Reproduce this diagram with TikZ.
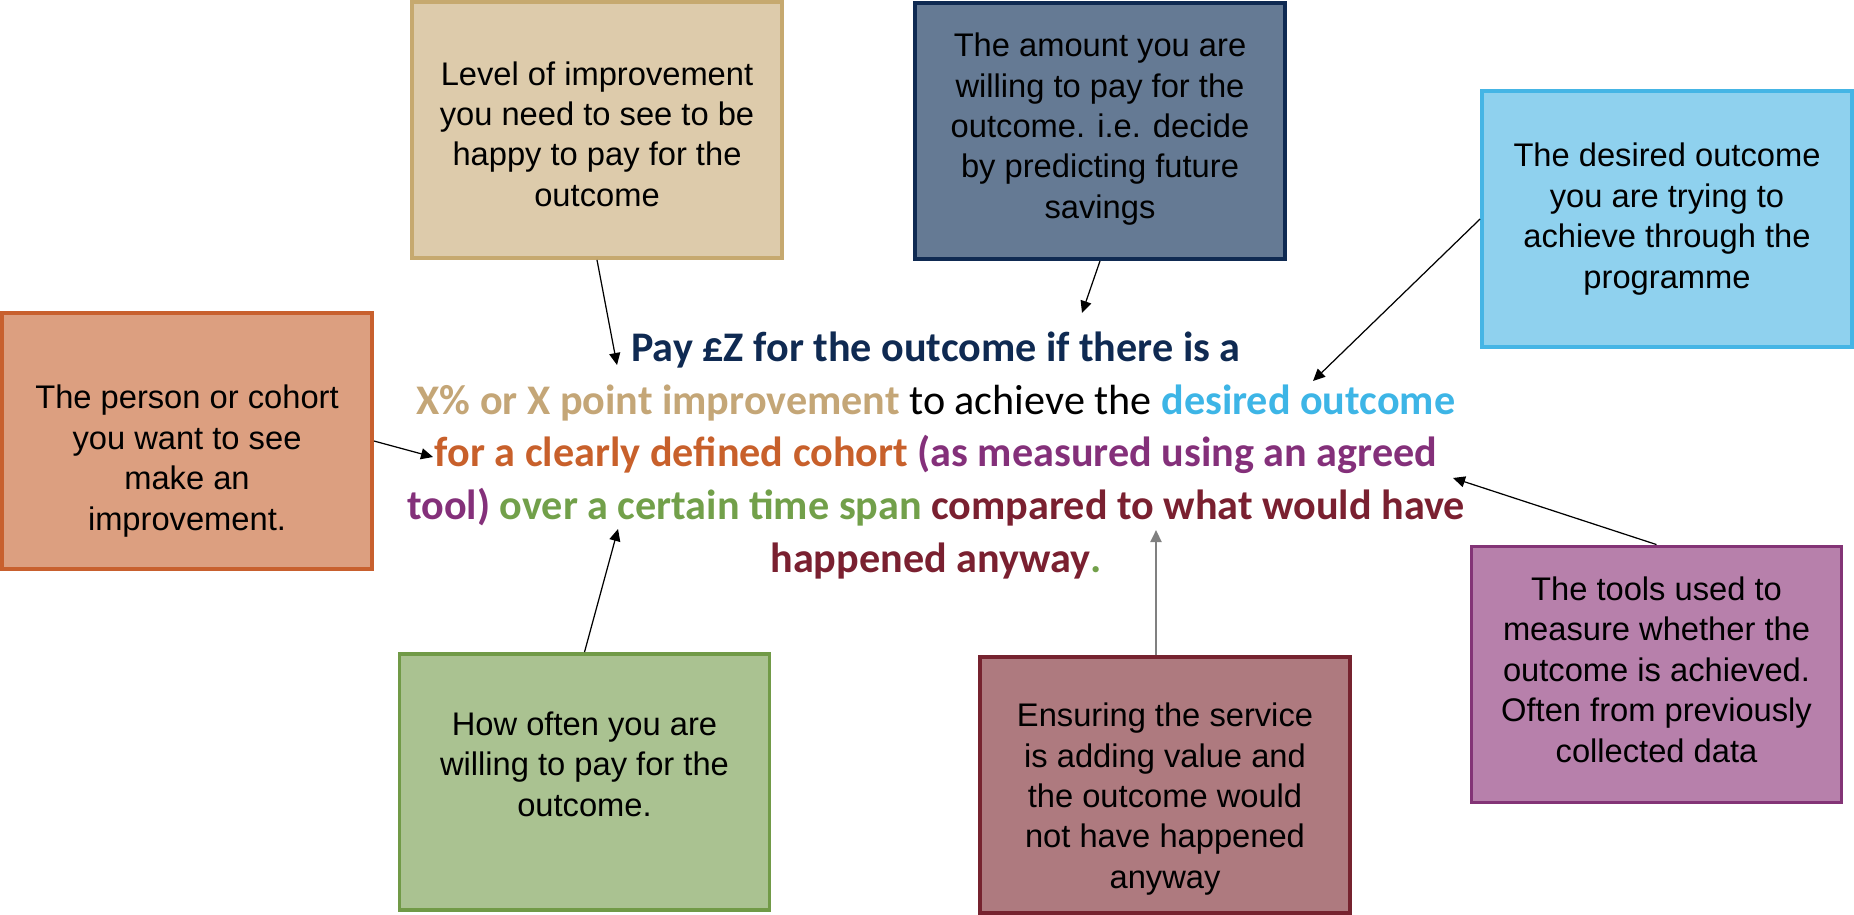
\documentclass[tikz,border=0pt]{standalone}
\usepackage{fontspec}
\setmainfont{Liberation Sans}
\newfontfamily\claimfont{Carlito}
\usetikzlibrary{arrows.meta}
\definecolor{tanfill}{HTML}{DDCBAB}\definecolor{tanline}{HTML}{C6A96F}
\definecolor{navyfill}{HTML}{657A94}\definecolor{navyline}{HTML}{0F2A52}
\definecolor{skyfill}{HTML}{8FD1EE}\definecolor{skyline}{HTML}{45B5E5}
\definecolor{orgfill}{HTML}{DC9F80}\definecolor{orgline}{HTML}{C8602E}
\definecolor{grnfill}{HTML}{AAC291}\definecolor{grnline}{HTML}{719A47}
\definecolor{marfill}{HTML}{AE7A7F}\definecolor{marline}{HTML}{76232F}
\definecolor{purfill}{HTML}{B780AB}\definecolor{purline}{HTML}{833476}
\definecolor{tantxt}{HTML}{C4A677}\definecolor{skytxt}{HTML}{3DB5E6}
\definecolor{orgtxt}{HTML}{C8602B}\definecolor{purtxt}{HTML}{84307A}
\definecolor{grntxt}{HTML}{72A04A}\definecolor{martxt}{HTML}{7A2030}
\begin{document}
\begin{tikzpicture}[box/.style={draw=#1line,fill=#1fill,line width=1.1pt,minimum width=3.7cm,minimum height=2.56cm},
boxtxt/.style={align=center,font=\fontsize{9.3}{11.5}\selectfont},
arr/.style={-{Triangle[length=1.2mm,width=1.1mm]},line width=.35pt}]
\useasboundingbox (0,0) rectangle (18.54,9.14);
\node[box=tan] (lvl) at (5.97,7.84) {};
\node[box=navy] (amt) at (11,7.83) {};
\node[box=sky] (goal) at (16.67,6.95) {};
\node[box=org] (who) at (1.87,4.73) {};
\node[box=grn] (often) at (5.845,1.32) {};
\node[box=mar] (added) at (11.65,1.29) {};
\node[box=pur] (tools) at (16.565,2.395) {};
\path (lvl) ++(0,-.04) node[boxtxt] (lvl-t) {Level of improvement\\you need to see to be\\happy to pay for the\\outcome}
(amt) ++(0,.02) node[boxtxt] (amt-t) {The amount you are\\willing to pay for the\\outcome. i.e. decide\\by predicting future\\savings}
(goal) node[boxtxt] (goal-t) {The desired outcome\\you are trying to\\achieve through the\\programme}
(who) ++(0,-.2) node[boxtxt] (who-t) {The person or cohort\\you want to see\\make an\\improvement.}
(often) ++(0,.18) node[boxtxt] (often-t) {How often you are\\willing to pay for the\\outcome.}
(added) ++(0,-.14) node[boxtxt] (added-t) {Ensuring the service\\is adding value and\\the outcome would\\not have happened\\anyway}
(tools) ++(0,.05) node[boxtxt] (tools-t) {The tools used to\\measure whether the\\outcome is achieved.\\Often from previously\\collected data};
\node[align=center,font=\claimfont\bfseries\fontsize{12}{15}\selectfont] (claim) at (9.36,4.585)
{\color{navyline}Pay £Z for the outcome if there is a\\
{\color{tantxt}X\% or X point improvement} {\mdseries\color{black}to achieve the} {\color{skytxt}desired outcome}\\
{\color{orgtxt}for a clearly defined cohort} {\color{purtxt}(as measured using an agreed}\\
{\color{purtxt}tool)} {\color{grntxt}over a certain time span} {\color{martxt}compared to what would have}\\
{\color{martxt}happened anyway}{\color{grntxt}.}};
\coordinate (plvl) at (6.17,5.49);
\coordinate (pamt) at (10.82,6.01);
\coordinate (pgoal) at (13.13,5.33);
\coordinate (pwho) at (4.33,4.57);
\coordinate (poften) at (6.18,3.85);
\coordinate (padded) at (11.56,3.84);
\coordinate (ptools) at (14.53,4.36);
\foreach \s/\t in {lvl.south/plvl, amt.south/pamt, goal.west/pgoal, who.east/pwho, often.north/poften, tools.north/ptools}
\draw[arr] (\s) -- (\t);
\draw[arr,gray,line width=.6pt] (added.north-|padded) -- (padded);
\end{tikzpicture}
\end{document}
